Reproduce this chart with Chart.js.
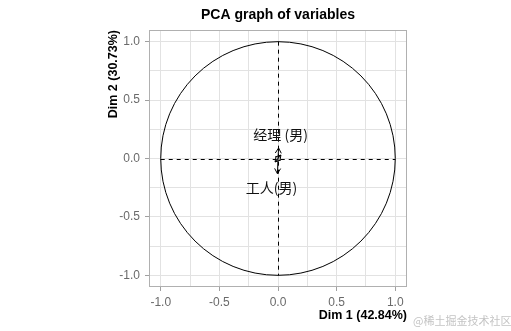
<!DOCTYPE html>
<html>
<head>
<meta charset="utf-8">
<script src="https://cdn.jsdelivr.net/npm/chart.js@4/dist/chart.umd.min.js"></script>
<style>
  html, body { margin: 0; padding: 0; background: #fff; }
  #wrap { width: 511px; height: 331px; }
</style>
</head>
<body>
<div id="wrap"><canvas id="pca" width="511" height="331"></canvas></div>
<script>
// Variable coordinates on the first two principal dimensions
const varNames = ['经理 (男)', '工人(男)', '', ''];
const dim1 = [0.005, -0.005, 0.025, -0.025];
const dim2 = [0.09, -0.13, 0.03, -0.03];

// Axis tick values and titles
const majorTicks = [-1.0, -0.5, 0.0, 0.5, 1.0];
const gridTicks = [-1.0, -0.75, -0.5, -0.25, 0.0, 0.25, 0.5, 0.75, 1.0];
const chartTitle = 'PCA graph of variables';
const xTitle = 'Dim 1 (42.84%)';
const yTitle = 'Dim 2 (30.73%)';
const credit = '@稀土掘金技术社区';

// Pixel nudges for the variable labels (text placement only)
const labelNudge = [[2, -13], [-6, 14], [0, 0], [0, 0]];

const points = dim1.map((x, i) => ({ x: x, y: dim2[i] }));

const isMajor = v => majorTicks.some(m => Math.abs(m - v) < 1e-9);

const axisBase = {
  type: 'linear',
  min: -1.1,
  max: 1.1,
  afterBuildTicks: s => { s.ticks = gridTicks.map(v => ({ value: v })); },
  grid: {
    color: '#e2e2e2',
    lineWidth: 1,
    drawTicks: true,
    tickLength: 4,
    tickColor: ctx => (ctx.tick && isMajor(ctx.tick.value)) ? '#a0a0a0' : 'rgba(0,0,0,0)'
  },
  border: { display: false },
  ticks: {
    autoSkip: false,
    maxRotation: 0,
    color: '#6a6a6a',
    font: { family: '"Liberation Sans", Arial, sans-serif', size: 12 },
    callback: v => isMajor(v) ? Number(v).toFixed(1) : ''
  }
};

const pcaDecor = {
  id: 'pcaDecor',
  beforeDraw(chart) {
    const c = chart.ctx;
    c.save();
    c.fillStyle = '#ffffff';
    c.fillRect(0, 0, chart.width, chart.height);
    c.restore();
  },
  afterDatasetsDraw(chart) {
    const c = chart.ctx;
    const xs = chart.scales.x, ys = chart.scales.y;
    const a = chart.chartArea;
    const x0 = xs.getPixelForValue(0), y0 = ys.getPixelForValue(0);

    c.save();
    // panel border
    c.strokeStyle = '#b0b0b0';
    c.lineWidth = 1;
    c.strokeRect(a.left + 0.5, a.top + 0.5, a.right - a.left - 1, a.bottom - a.top - 1);

    // unit correlation circle
    const rx = xs.getPixelForValue(1) - x0;
    const ry = y0 - ys.getPixelForValue(1);
    c.beginPath();
    c.ellipse(x0, y0, rx, ry, 0, 0, Math.PI * 2);
    c.strokeStyle = '#000';
    c.lineWidth = 1;
    c.stroke();

    // dashed reference lines through the origin
    c.setLineDash([4, 4]);
    c.beginPath();
    c.moveTo(xs.getPixelForValue(-1), Math.round(y0) + 0.5);
    c.lineTo(xs.getPixelForValue(1), Math.round(y0) + 0.5);
    c.moveTo(Math.round(x0) + 0.5, ys.getPixelForValue(1));
    c.lineTo(Math.round(x0) + 0.5, ys.getPixelForValue(-1));
    c.stroke();
    c.setLineDash([]);

    // variable arrows
    const meta = chart.getDatasetMeta(0);
    meta.data.forEach((el, i) => {
      const tx = el.x, ty = el.y;
      const ang = Math.atan2(ty - y0, tx - x0);
      const head = 6;
      c.beginPath();
      c.moveTo(x0, y0);
      c.lineTo(tx, ty);
      c.moveTo(tx - head * Math.cos(ang - Math.PI / 6), ty - head * Math.sin(ang - Math.PI / 6));
      c.lineTo(tx, ty);
      c.lineTo(tx - head * Math.cos(ang + Math.PI / 6), ty - head * Math.sin(ang + Math.PI / 6));
      c.strokeStyle = '#000';
      c.lineWidth = 1;
      c.stroke();

      if (varNames[i]) {
        c.font = '14px "Noto Sans CJK SC", sans-serif';
        c.fillStyle = '#111';
        c.textAlign = 'center';
        c.textBaseline = 'middle';
        c.fillText(varNames[i], tx + labelNudge[i][0], ty + labelNudge[i][1]);
      }
    });

    // titles
    c.fillStyle = '#000';
    c.font = 'bold 14px "Liberation Sans", Arial, sans-serif';
    c.textAlign = 'center';
    c.textBaseline = 'alphabetic';
    c.fillText(chartTitle, (a.left + a.right) / 2, 19);

    c.font = 'bold 12.5px "Liberation Sans", Arial, sans-serif';
    c.textAlign = 'right';
    c.fillText(xTitle, a.right, 319);

    c.save();
    c.translate(117, a.top);
    c.rotate(-Math.PI / 2);
    c.textAlign = 'right';
    c.fillText(yTitle, 0, 0);
    c.restore();

    // credit line
    c.font = '11px "Noto Sans CJK SC", sans-serif';
    c.fillStyle = '#c4c4c4';
    c.textAlign = 'left';
    c.fillText(credit, 413, 325);
    c.restore();
  }
};

new Chart(document.getElementById('pca'), {
  type: 'scatter',
  data: {
    datasets: [{
      label: 'variables',
      data: points,
      pointRadius: 0,
      pointHoverRadius: 0,
      showLine: false
    }]
  },
  options: {
    responsive: false,
    animation: false,
    events: [],
    layout: { padding: { left: 109, right: 104, top: 30, bottom: 22 } },
    plugins: {
      legend: { display: false },
      title: { display: false },
      tooltip: { enabled: false }
    },
    scales: {
      x: Object.assign({}, axisBase, {
        position: 'bottom',
        ticks: Object.assign({}, axisBase.ticks, { padding: 4 }),
        afterFit: s => { s.height = 22; }
      }),
      y: Object.assign({}, axisBase, {
        position: 'left',
        ticks: Object.assign({}, axisBase.ticks, { padding: 5 }),
        afterFit: s => { s.width = 40; }
      })
    }
  },
  plugins: [pcaDecor]
});
</script>
</body>
</html>
